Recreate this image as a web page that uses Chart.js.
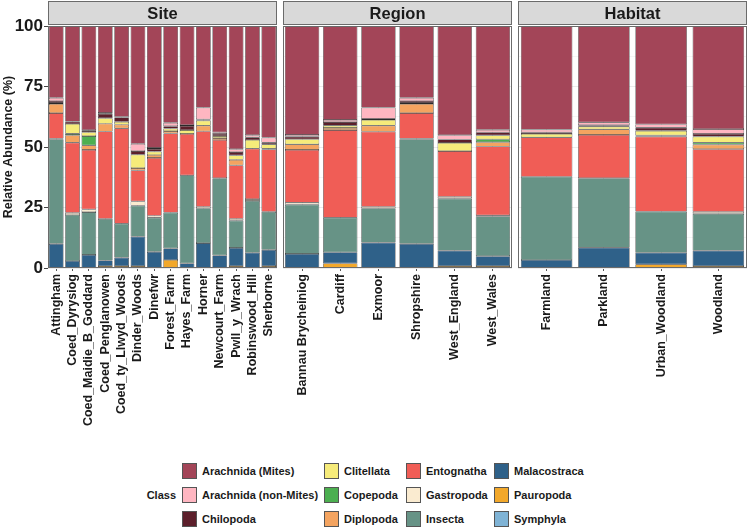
<!DOCTYPE html>
<html>
<head>
<meta charset="utf-8">
<script src="https://cdn.jsdelivr.net/npm/chart.js@4.4.1/dist/chart.umd.min.js"></script>
<style>
  body { margin: 0; background: #fff; width: 750px; height: 529px; overflow: hidden; position: relative;
         font-family: "Liberation Sans", Arial, sans-serif; }
  canvas { position: absolute; top: 0; }
  .sw { position: absolute; width: 15px; height: 16px; border: 1px solid #555; box-sizing: border-box; }
  .lt { position: absolute; font-size: 11px; font-weight: bold; color: #1a1a1a; line-height: 16px; white-space: nowrap; }
</style>
</head>
<body>
<canvas id="siteChart" width="278" height="430" style="left:0px"></canvas>
<canvas id="regionChart" width="230" height="430" style="left:283px"></canvas>
<canvas id="habitatChart" width="230" height="430" style="left:518px"></canvas>
<div id="legend"></div>
<script>
// classes in stacking order, top of bar first
var classes = ['Arachnida (Mites)', 'Arachnida (non-Mites)', 'Chilopoda', 'Clitellata', 'Copepoda', 'Diplopoda',
               'Entognatha', 'Gastropoda', 'Insecta', 'Malacostraca', 'Pauropoda', 'Symphyla'];
var classColors = ['#A34558', '#FFB6C1', '#5C1F2B', '#F6EB7A', '#4CAF50', '#F4A460',
                   '#F05D56', '#FAEBD0', '#679386', '#2F6189', '#F2A82B', '#7FB3D5'];

var siteNames = ['Attingham', 'Coed_Dyrysiog', 'Coed_Maidie_B_Goddard', 'Coed_Penglanowen', 'Coed_ty_Llwyd_Woods',
                 'Dinder_Woods', 'Dinefwr', 'Forest_Farm', 'Hayes_Farm', 'Horner', 'Newcourt_Farm', 'Pwll_y_Wrach',
                 'Robinswood_Hill', 'Sherborne'];
var regionNames = ['Bannau Brycheiniog', 'Cardiff', 'Exmoor', 'Shropshire', 'West_England', 'West_Wales'];
var habitatNames = ['Farmland', 'Parkland', 'Urban_Woodland', 'Woodland'];

// relative abundance (%), one row per class (same order as classes)
var siteValues = [
  [29.7, 39.5, 43.0, 35.7, 37.3, 48.5, 50.4, 40.0, 40.9, 33.7, 43.9, 50.7, 45.1, 45.9],
  [1.3, 0, 0.3, 0.4, 0.3, 3.0, 0.4, 1.4, 0.4, 4.9, 0.7, 1.2, 0.9, 2.1],
  [0.8, 1.0, 0.6, 1.8, 1.8, 1.5, 1.1, 1.0, 1.7, 0.5, 0.9, 1.4, 1.1, 0.7],
  [0.4, 4.0, 1.6, 2.3, 1.2, 5.5, 1.4, 1.0, 1.6, 2.1, 0.8, 1.8, 3.6, 1.8],
  [0, 0.6, 3.8, 0, 0, 0, 0, 0, 0, 0, 0, 0, 0, 0],
  [3.8, 3.1, 1.9, 3.2, 1.5, 1.0, 1.2, 1.0, 0, 2.3, 0.8, 2.3, 0, 0.3],
  [10.5, 29.0, 24.6, 36.1, 39.4, 12.8, 23.9, 32.7, 17.1, 31.2, 15.8, 22.1, 20.8, 25.8],
  [0.3, 0.9, 1.1, 0, 0, 1.7, 0.8, 0, 0, 0.6, 0, 0.7, 0.8, 0],
  [43.2, 19.0, 17.7, 17.2, 14.0, 12.8, 14.1, 14.8, 36.4, 14.4, 31.9, 11.3, 21.4, 15.7],
  [10.0, 2.9, 5.4, 2.3, 3.5, 12.2, 6.7, 4.8, 1.9, 10.3, 5.2, 7.5, 6.3, 6.7],
  [0, 0, 0, 0.8, 0.8, 0.8, 0, 3.3, 0, 0, 0, 0.8, 0, 0.8],
  [0, 0, 0, 0, 0, 0, 0, 0, 0, 0, 0, 0, 0, 0]
];
var regionValues = [
  [45.0, 38.8, 33.7, 29.7, 44.9, 42.7],
  [0.7, 0.9, 4.7, 1.3, 1.8, 1.0],
  [1.1, 1.5, 0.4, 0.8, 1.4, 1.3],
  [2.1, 0.9, 2.4, 0.4, 3.4, 1.6],
  [0, 0, 0, 0, 0, 1.2],
  [2.3, 0.9, 2.5, 3.8, 0, 1.8],
  [21.8, 36.2, 31.0, 10.5, 18.9, 28.4],
  [0.8, 0, 0.6, 0.3, 0.7, 0.5],
  [20.4, 14.3, 14.2, 43.2, 21.5, 16.4],
  [5.8, 4.6, 10.5, 10.0, 6.4, 4.1],
  [0, 1.9, 0, 0, 0.8, 0.8],
  [0, 0, 0, 0, 0, 0]
];
var habitatValues = [
  [42.8, 39.8, 40.6, 42.4],
  [1.1, 1.2, 1.4, 2.0],
  [0.7, 0.6, 1.3, 1.1],
  [1.4, 1.1, 1.9, 2.5],
  [0, 0, 0, 0.8],
  [0, 2.3, 0.5, 1.9],
  [16.3, 17.9, 31.0, 25.9],
  [0, 0, 0, 0.8],
  [34.4, 28.7, 17.0, 15.2],
  [3.3, 8.4, 4.8, 6.4],
  [0, 0, 1.5, 0.8],
  [0, 0, 0, 0]
];

var panelBottom = 268;

// facet strip + panel border
var facetDecor = {
  id: 'facetDecor',
  afterDraw: function (chart) {
    var a = chart.chartArea, ctx = chart.ctx;
    ctx.save();
    ctx.fillStyle = '#d9d9d9';
    ctx.strokeStyle = '#6b6b6b';
    ctx.lineWidth = 1;
    ctx.fillRect(a.left + 0.5, 1.5, a.right - a.left - 1, a.top - 3);
    ctx.strokeRect(a.left + 0.5, 1.5, a.right - a.left - 1, a.top - 3);
    ctx.strokeRect(a.left + 0.5, a.top + 0.5, a.right - a.left - 1, a.bottom - a.top - 1);
    ctx.fillStyle = '#1a1a1a';
    ctx.font = 'bold 16.5px "Liberation Sans", Arial, sans-serif';
    ctx.textAlign = 'center';
    ctx.textBaseline = 'middle';
    ctx.fillText(chart.options.plugins.facetDecor.title, (a.left + a.right) / 2, 14);
    ctx.restore();
  }
};

function makeFacet(id, title, names, values, showY) {
  var canvas = document.getElementById(id);
  var datasets = [];
  // Chart.js stacks the first dataset at the bottom, so go from Symphyla up to Mites
  for (var i = classes.length - 1; i >= 0; i--) {
    datasets.push({
      label: classes[i],
      data: values[i].map(function (v) { return v > 0 ? v : null; }),
      backgroundColor: classColors[i],
      borderColor: '#2a2a2a',
      borderWidth: 0.6,
      borderSkipped: false,
      categoryPercentage: 0.9,
      barPercentage: 1
    });
  }
  return new Chart(canvas.getContext('2d'), {
    type: 'bar',
    data: { labels: names, datasets: datasets },
    plugins: [facetDecor],
    options: {
      responsive: false,
      animation: false,
      layout: { padding: { top: 26, right: 1, left: 0, bottom: 0 } },
      plugins: {
        legend: { display: false },
        tooltip: { enabled: false },
        facetDecor: { title: title }
      },
      scales: {
        x: {
          stacked: true,
          offset: true,
          border: { display: false },
          grid: { offset: false, color: '#ebebeb', tickColor: '#555', tickLength: 3 },
          ticks: {
            autoSkip: false, maxRotation: 90, minRotation: 90, padding: 3,
            color: '#1a1a1a',
            font: { family: '"Liberation Sans", Arial, sans-serif', size: 12.5, weight: 'bold' }
          },
          afterFit: function (s) {
            s.height = canvas.height - panelBottom;
            s.paddingLeft = 0;
            s.paddingRight = 0;
          }
        },
        y: {
          stacked: true,
          min: 0,
          max: 100,
          border: { display: false },
          grid: {
            drawTicks: showY,
            tickLength: 4,
            color: function (c) { return c.tick.value % 25 === 0 ? '#ebebeb' : '#f5f5f5'; },
            tickColor: function (c) { return c.tick.value % 25 === 0 ? '#444' : 'rgba(0,0,0,0)'; }
          },
          ticks: {
            display: showY,
            stepSize: 12.5,
            padding: 1,
            color: '#1a1a1a',
            font: { family: '"Liberation Sans", Arial, sans-serif', size: 17, weight: 'bold' },
            callback: function (v) { return v % 25 === 0 ? v : ''; }
          },
          title: {
            display: showY,
            text: 'Relative Abundance (%)',
            color: '#1a1a1a',
            padding: { top: 1, bottom: 0 },
            font: { family: '"Liberation Sans", Arial, sans-serif', size: 12.5, weight: 'bold' }
          },
          afterFit: function (s) { s.width = showY ? 48 : 0; }
        }
      }
    }
  });
}

makeFacet('siteChart', 'Site', siteNames, siteValues, true);
makeFacet('regionChart', 'Region', regionNames, regionValues, false);
makeFacet('habitatChart', 'Habitat', habitatNames, habitatValues, false);

// legend: 3 rows, filled column by column
var legend = document.getElementById('legend');
var swatchX = [182, 324, 406, 494];
var rowY = [463, 487, 511];
var html = '<div class="lt" style="left:128px;top:' + (rowY[1]) + 'px;width:48px;text-align:right">Class</div>';
classes.forEach(function (name, i) {
  var col = Math.floor(i / 3), row = i % 3;
  html += '<div class="sw" style="left:' + swatchX[col] + 'px;top:' + rowY[row] + 'px;background:' + classColors[i] + '"></div>';
  html += '<div class="lt" style="left:' + (swatchX[col] + 20) + 'px;top:' + rowY[row] + 'px">' + name + '</div>';
});
legend.innerHTML = html;
</script>
</body>
</html>
